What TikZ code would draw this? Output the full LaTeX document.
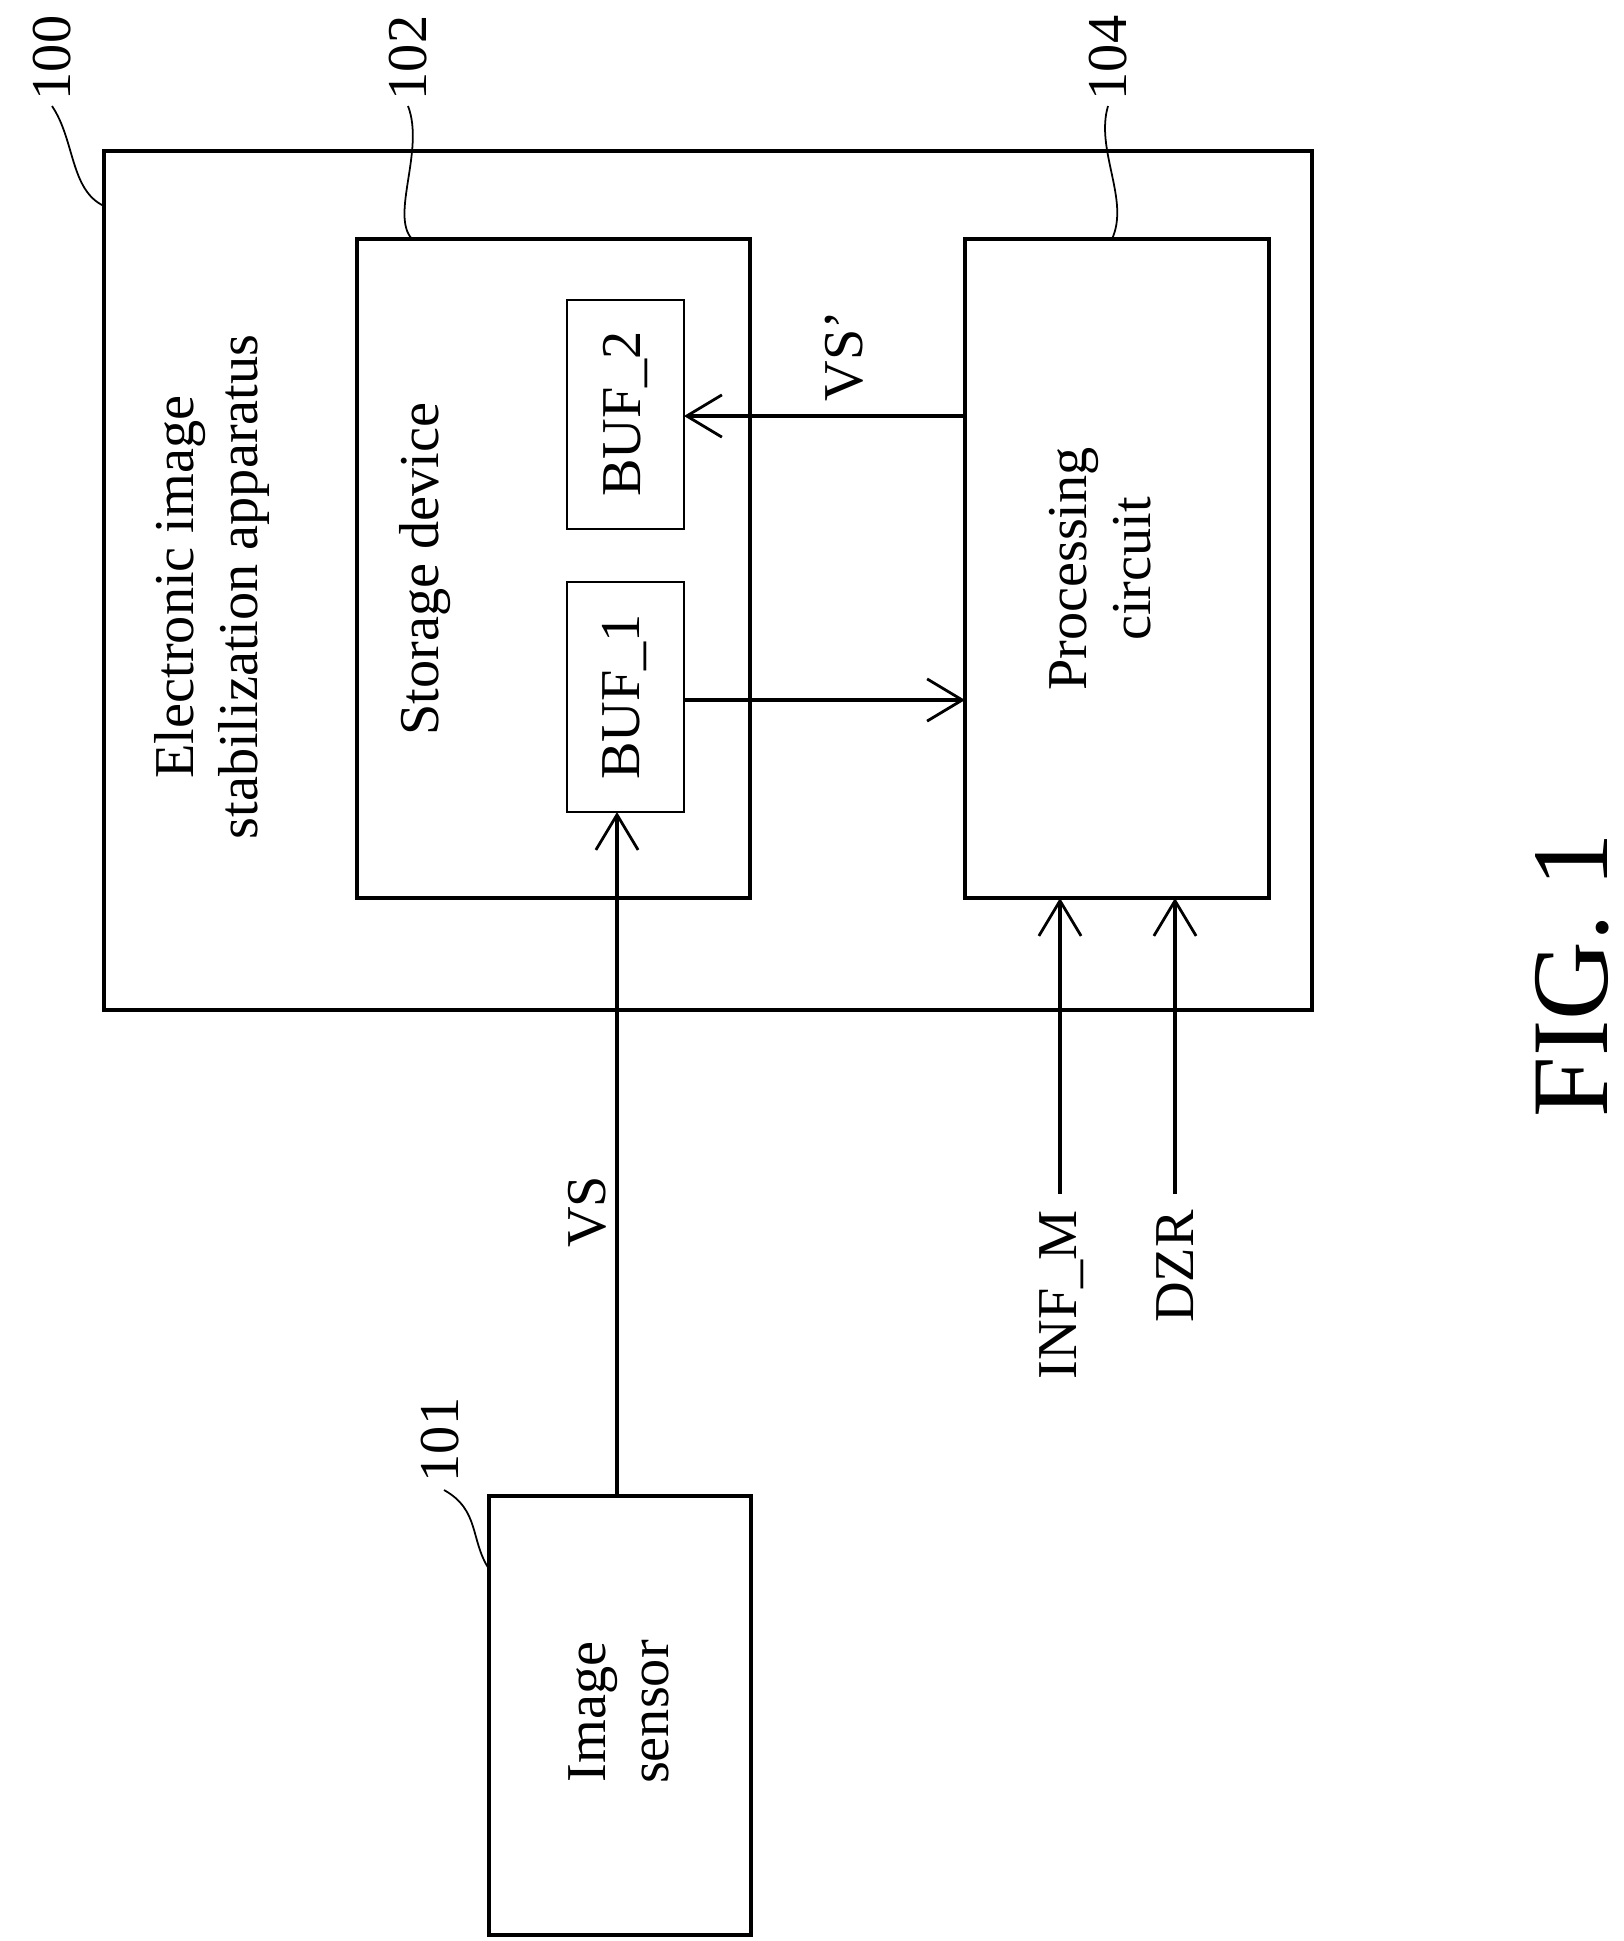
\documentclass[tikz,border=0pt]{standalone}
\usepackage{fontspec}
\setmainfont{Liberation Serif}
\usetikzlibrary{arrows.meta}
\begin{document}
\begin{tikzpicture}[x=0.01cm,y=-0.01cm,
  box/.style={draw,line width=1.1pt},
  thin box/.style={draw,line width=0.5pt},
  lbl/.style={font=\fontsize{16pt}{18pt}\selectfont,rotate=90,align=center},
  arr/.style={line width=1.1pt,-{Straight Barb[length=10pt,width=12pt,line width=0.8pt]}},
  lead/.style={line width=0.5pt}]
\useasboundingbox (0,0) rectangle (1624,1941);
\draw[box] (104,151) rectangle (1312,1010);
\draw[box] (357,239) rectangle (750,898);
\draw[box] (965,239) rectangle (1269,898);
\draw[box] (489,1496) rectangle (751,1935);
\draw[thin box] (567,300) rectangle (684,529);
\draw[thin box] (567,582) rectangle (684,812);
\coordinate (b2) at (684,416);
\coordinate (b1r) at (684,700);
\coordinate (b1b) at (617,812);
\coordinate (isT) at (617,1496);
\coordinate (pL1) at (965,416);
\coordinate (pL2) at (965,700);
\coordinate (p1) at (1060,898);
\coordinate (p2) at (1175,898);
\coordinate (i1) at (1060,1194);
\coordinate (i2) at (1175,1194);
\draw[arr] (isT) -- (b1b);
\draw[arr] (b1r) -- (pL2);
\draw[arr] (pL1) -- (b2);
\draw[arr] (i1) -- (p1);
\draw[arr] (i2) -- (p2);
\node[lbl] (t1) at (212,587) {Electronic image\\stabilization apparatus};
\node[lbl] (t2) at (425,569) {Storage device};
\node[lbl] (t3) at (1100,569) {Processing\\circuit};
\node[lbl] (t4) at (619,1712) {Image\\sensor};
\node[lbl] (t5) at (625,414) {BUF\_2};
\node[lbl] (t6) at (625,697) {BUF\_1};
\node[lbl] (vs) at (587,1212) {VS};
\node[lbl] (vsp) at (844,356) {VS'};
\node[lbl,anchor=east] (inf) at (1062,1198) {INF\_M};
\node[lbl,anchor=east] (dzr) at (1175,1198) {DZR};
\node[rotate=90,font=\fontsize{31pt}{33pt}\selectfont] (fig) at (1572,975) {FIG. 1};
\node[lbl] (n100) at (52,58) {100};
\node[lbl] (n102) at (408,58) {102};
\node[lbl] (n104) at (1108,58) {104};
\node[lbl] (n101) at (440,1440) {101};
\draw[lead] (104,206) .. controls (70,190) and (75,140) .. (52,106);
\draw[lead] (412,239) .. controls (390,215) and (425,150) .. (408,106);
\draw[lead] (1112,239) .. controls (1130,200) and (1095,150) .. (1108,106);
\draw[lead] (489,1569) .. controls (470,1540) and (480,1510) .. (444,1490);
\end{tikzpicture}
\end{document}
